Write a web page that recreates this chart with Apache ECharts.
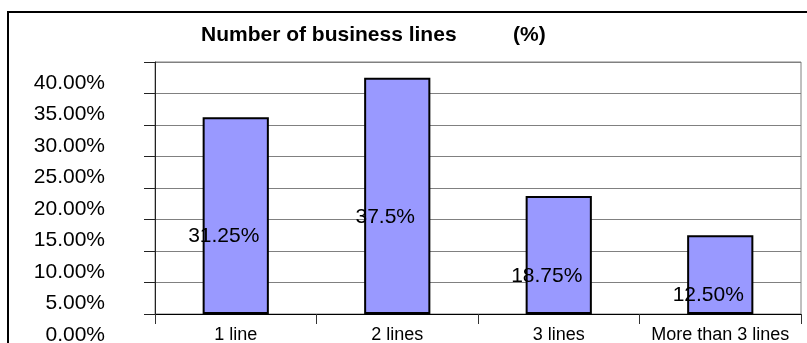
<!DOCTYPE html>
<html>
<head>
<meta charset="utf-8">
<script src="https://cdn.jsdelivr.net/npm/echarts@6/dist/echarts.min.js"></script>
<style>
  html, body { margin: 0; padding: 0; background: #fff; }
  #main { width: 807px; height: 343px; }
</style>
</head>
<body>
<div id="main"></div>
<script>
var categories = ['1 line', '2 lines', '3 lines', 'More than 3 lines'];
var shares = [31.25, 37.5, 18.75, 12.5];
var shareLabels = ['31.25%', '37.5%', '18.75%', '12.50%'];
var yMin = 0, yMax = 40, yStep = 5;

var myChart = echarts.init(document.getElementById('main'));
var font = 'Liberation Sans, Arial, sans-serif';

// the original's tick labels sit about 21px below their gridlines,
// so they come from a second, invisible grid shifted down by that much
var option = {
    animation: false,
    textStyle: { fontFamily: font },
    title: [{
        text: 'Number of business lines',
        left: 196,
        top: 20,
        textStyle: { fontFamily: font, fontSize: 21, fontWeight: 'bold', color: '#000' }
    }, {
        text: '(%)',
        left: 508,
        top: 20,
        textStyle: { fontFamily: font, fontSize: 21, fontWeight: 'bold', color: '#000' }
    }],
    graphic: [{
        type: 'rect',
        shape: { x: 8, y: 12, width: 900, height: 400 },
        style: { fill: 'none', stroke: '#000', lineWidth: 2 },
        silent: true
    }],
    grid: [{
        show: true,
        left: 155,
        right: 6,
        top: 62,
        bottom: 29,
        borderColor: '#808080',
        borderWidth: 1,
        outerBoundsMode: 'none'
    }, {
        left: 155,
        right: 6,
        top: 83,
        bottom: 8,
        outerBoundsMode: 'none'
    }],
    xAxis: [{
        type: 'category',
        data: categories,
        axisLine: { lineStyle: { color: '#000', width: 1 } },
        axisTick: { show: true, length: 10, lineStyle: { color: '#333' } },
        axisLabel: { color: '#000', fontSize: 18, margin: 12, interval: 0 }
    }, {
        type: 'category',
        gridIndex: 1,
        data: categories,
        show: false
    }],
    yAxis: [{
        type: 'value',
        min: yMin,
        max: yMax,
        interval: yStep,
        axisLine: { show: true, lineStyle: { color: '#222', width: 1 } },
        axisTick: { show: true, length: 11, lineStyle: { color: '#222' } },
        splitLine: { lineStyle: { color: '#808080', width: 1 } },
        axisLabel: { show: false }
    }, {
        type: 'value',
        gridIndex: 1,
        min: yMin,
        max: yMax,
        interval: yStep,
        axisLine: { show: false },
        axisTick: { show: false },
        splitLine: { show: false },
        axisLabel: {
            color: '#000',
            fontSize: 21,
            margin: 50,
            showMinLabel: true,
            showMaxLabel: true,
            formatter: function (v) { return v.toFixed(2) + '%'; }
        }
    }],
    series: [{
        type: 'bar',
        data: shares,
        barWidth: '41%',
        itemStyle: { color: '#9999ff', borderColor: '#000', borderWidth: 2 },
        label: {
            show: true,
            position: 'inside',
            offset: [-12, 21],
            color: '#000',
            fontSize: 21,
            formatter: function (p) { return shareLabels[p.dataIndex]; }
        }
    }]
};
myChart.setOption(option);
</script>
</body>
</html>
